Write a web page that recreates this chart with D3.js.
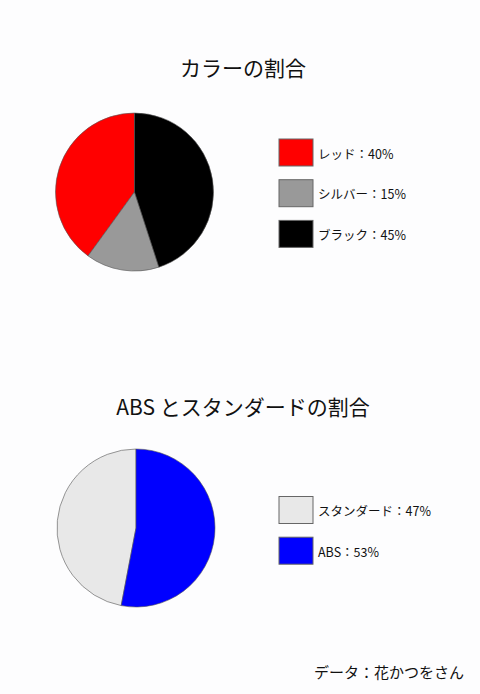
<!DOCTYPE html>
<html><head><meta charset="utf-8">
<script src="https://cdn.jsdelivr.net/npm/d3@7"></script>
<style>
html,body{margin:0;padding:0;background:#fdfdfe;}
svg{display:block;font-family:"Noto Sans CJK JP","Noto Sans",sans-serif;}
</style></head>
<body><svg id="c" width="480" height="694"></svg>
<script>
const colorCategories = ["レッド", "シルバー", "ブラック"];
const colorValues = [40, 15, 45];
const colorFills = ["#ff0000", "#999999", "#000000"];
const absCategories = ["スタンダード", "ABS"];
const absValues = [47, 53];
const absFills = ["#e8e8e8", "#0000ff"];
const titles = ["カラーの割合", "ABS とスタンダードの割合"];
const source = "データ：花かつをさん";

const svg = d3.select("#c");
svg.append("rect").attr("width",480).attr("height",694).attr("fill","#fdfdfe");

function drawPie(cfg){
  const {title, titleY, cx, cy, r, cats, vals, fills, legendY} = cfg;
  svg.append("text").attr("x",243).attr("y",titleY)
    .attr("text-anchor","middle").attr("dominant-baseline","central")
    .attr("font-size",21).attr("fill","#111").text(title);
  const pie = d3.pie().sort(null).startAngle(0).endAngle(-2*Math.PI);
  const arc = d3.arc().innerRadius(0).outerRadius(r);
  const color = d3.scaleOrdinal().domain(cats).range(fills);
  const g = svg.append("g").attr("transform",`translate(${cx},${cy})`);
  g.selectAll("path").data(pie(vals)).join("path")
    .attr("d",arc).attr("fill",(d,i)=>color(cats[i]))
    .attr("stroke","#555").attr("stroke-width",0.6);
  const y = d3.scaleBand().domain(cats).range([legendY, legendY + cats.length*40.7]).paddingInner(0);
  const lg = svg.append("g");
  const items = lg.selectAll("g").data(cats).join("g")
    .attr("transform",d=>`translate(279,${y(d)})`);
  items.append("rect").attr("width",34).attr("height",27)
    .attr("fill",d=>color(d)).attr("stroke","#666").attr("stroke-width",1);
  items.append("text").attr("x",39).attr("y",14)
    .attr("dominant-baseline","central").attr("font-size",12.5).attr("fill","#111")
    .text((d,i)=>`${d}：${vals[i]}%`);
}

drawPie({title:titles[0], titleY:67, cx:134.5, cy:192, r:79,
  cats:colorCategories, vals:colorValues, fills:colorFills, legendY:139});
drawPie({title:titles[1], titleY:406, cx:136, cy:528, r:79,
  cats:absCategories, vals:absValues, fills:absFills, legendY:496.5});

svg.append("text").attr("x",464).attr("y",671)
  .attr("text-anchor","end").attr("dominant-baseline","central")
  .attr("font-size",15).attr("fill","#111").text(source);
</script></body></html>
